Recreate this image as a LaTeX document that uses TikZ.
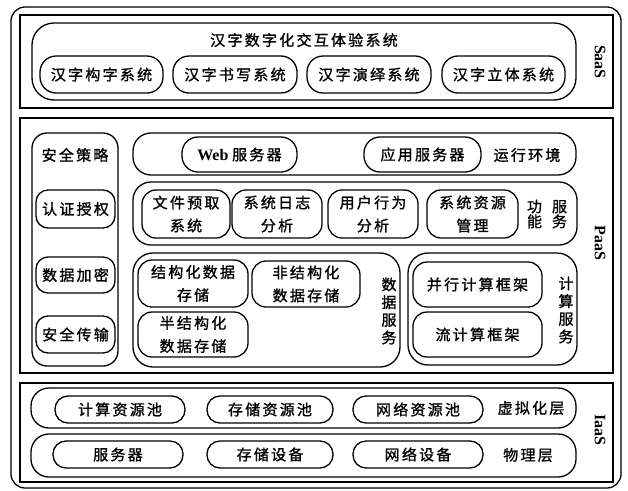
\documentclass[tikz,border=0pt]{standalone}
\usepackage{fontspec}
\setmainfont{Liberation Serif}
\newfontfamily\cjk[LetterSpace=15,FakeBold=1.2]{Noto Sans CJK SC}
\begin{document}
\begin{tikzpicture}[x=1pt,y=-1pt,
  frame/.style={draw, line width=1.3pt, rectangle, inner sep=0pt},
  grp/.style={draw, line width=1.3pt, rounded corners=18pt, inner sep=0pt},
  item/.style={draw, line width=1.3pt, rounded corners=14pt, inner sep=0pt, align=center, font=\cjk\fontsize{15}{23}\selectfont},
  pill/.style={draw, line width=1.3pt, rounded corners=13pt, inner sep=0pt, align=center, font=\cjk\fontsize{15}{23}\selectfont},
  lbl/.style={inner sep=0pt, align=center, font=\cjk\fontsize{15}{17.7}\selectfont},
  side/.style={inner sep=0pt, rotate=-90, font=\bfseries\fontsize{16}{16}\selectfont}]
\fill[white] (0,0) rectangle (628,490);
\useasboundingbox (0,0) rectangle (628,490);
% outer
\node[draw, line width=1.3pt, rounded corners=14pt, minimum width=610pt, minimum height=481pt] (outer) at (316,247.5) {};
% layers
\node[frame, minimum width=593pt, minimum height=93pt] (saas) at (316.5,61.5) {};
\node[frame, minimum width=593pt, minimum height=255pt] (paas) at (316.5,245.5) {};
\node[frame, minimum width=593pt, minimum height=99pt] (iaas) at (316.5,432.5) {};
\node[side] (saasl) at (600,62) {SaaS};
\node[side] (paasl) at (600,243) {PaaS};
\node[side] (iaasl) at (600,430) {IaaS};
% SaaS
\node[grp, rounded corners=22pt, minimum width=544pt, minimum height=77pt] (hz) at (304,61.5) {};
\node[lbl] (hzt) at (304,40) {汉字数字化交互体验系统};
\node[item, rounded corners=16pt, minimum width=123pt, minimum height=37pt] (s1) at (101.5,74.5) {汉字构字系统};
\node[item, rounded corners=16pt, minimum width=124pt, minimum height=37pt] (s2) at (235,74.5) {汉字书写系统};
\node[item, rounded corners=16pt, minimum width=124pt, minimum height=37pt] (s3) at (369,74.5) {汉字演绎系统};
\node[item, rounded corners=16pt, minimum width=123pt, minimum height=37pt] (s4) at (503.5,74.5) {汉字立体系统};
% security column
\node[grp, rounded corners=15pt, minimum width=86pt, minimum height=233pt] (sec) at (75,249.5) {};
\node[lbl] (sect) at (75,155) {安全策略};
\node[item, rounded corners=12pt, minimum width=79pt, minimum height=38pt] (sec1) at (75.5,209) {认证授权};
\node[item, rounded corners=12pt, minimum width=79pt, minimum height=36pt] (sec2) at (75.5,275) {数据加密};
\node[item, rounded corners=12pt, minimum width=79pt, minimum height=37pt] (sec3) at (75.5,334.5) {安全传输};
% runtime
\node[grp, minimum width=443pt, minimum height=42pt] (run) at (354.5,154) {};
\node[item, rounded corners=16pt, minimum width=115pt, minimum height=35pt, font=\fontsize{15}{18}\selectfont] (web) at (239.5,154.5) {\textbf{\fontsize{16}{18}\selectfont Web} {\cjk 服务器}};
\node[item, rounded corners=16pt, minimum width=117pt, minimum height=35pt] (app) at (422.5,154.5) {应用服务器};
\node[lbl] (runt) at (527,155) {运行环境};
% function services
\node[grp, minimum width=444pt, minimum height=63pt] (fun) at (355,213.5) {};
\node[item, minimum width=88pt, minimum height=48pt] (f1) at (186,214) {文件预取\\系统};
\node[item, minimum width=90pt, minimum height=48pt] (f2) at (277,214) {系统日志\\分析};
\node[item, minimum width=90pt, minimum height=48pt] (f3) at (373,214) {用户行为\\分析};
\node[item, minimum width=91pt, minimum height=48pt] (f4) at (472.5,214) {系统资源\\管理};
\node[lbl, font=\cjk\fontsize{15}{15}\selectfont] (funt) at (547,214) {功\hspace{10pt}服\\能\hspace{10pt}务};
% data services
\node[grp, rounded corners=20pt, minimum width=267pt, minimum height=114pt] (data) at (266.5,310) {};
\node[item, minimum width=110pt, minimum height=47pt] (d1) at (193,283.5) {结构化数据\\存储};
\node[item, minimum width=108pt, minimum height=46pt] (d2) at (306,284) {非结构化\\数据存储};
\node[item, minimum width=110pt, minimum height=45pt] (d3) at (193,334.5) {半结构化\\数据存储};
\node[lbl] (datat) at (389,311) {数\\据\\服\\务};
% compute services
\node[grp, rounded corners=20pt, minimum width=169pt, minimum height=112pt] (comp) at (492.5,309) {};
\node[item, minimum width=129pt, minimum height=45pt] (c1) at (477.5,284.5) {并行计算框架};
\node[item, minimum width=129pt, minimum height=45pt] (c2) at (477.5,334.5) {流计算框架};
\node[lbl] (compt) at (566,310) {计\\算\\服\\务};
% IaaS
\node[grp, minimum width=545pt, minimum height=40pt] (virt) at (303.5,408) {};
\node[grp, minimum width=545pt, minimum height=43pt] (phys) at (303.5,455.5) {};
\node[pill, minimum width=130pt, minimum height=27pt] (v1) at (120,409.5) {计算资源池};
\node[pill, minimum width=126pt, minimum height=27pt] (v2) at (270,409.5) {存储资源池};
\node[pill, minimum width=130pt, minimum height=27pt] (v3) at (418,409.5) {网络资源池};
\node[lbl] (virtt) at (531,408) {虚拟化层};
\node[pill, minimum width=130pt, minimum height=27pt] (p1) at (118,454.5) {服务器};
\node[pill, minimum width=126pt, minimum height=27pt] (p2) at (270,454.5) {存储设备};
\node[pill, minimum width=130pt, minimum height=27pt] (p3) at (418,454.5) {网络设备};
\node[lbl] (physt) at (528,455) {物理层};
\end{tikzpicture}
\end{document}
